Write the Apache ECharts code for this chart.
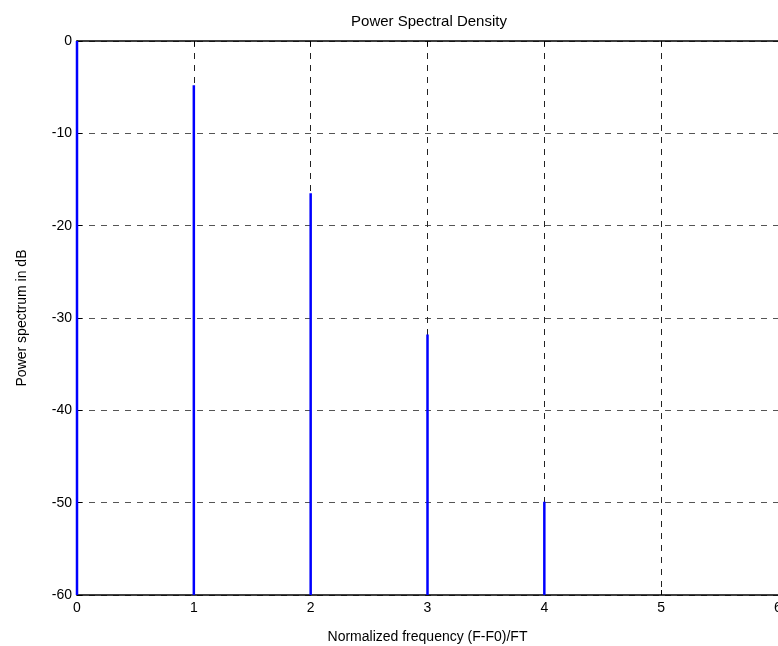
<!DOCTYPE html>
<html>
<head>
<meta charset="utf-8">
<script src="https://cdn.jsdelivr.net/npm/echarts@6/dist/echarts.min.js"></script>
<style>
html,body{margin:0;padding:0;background:#fff;}
#chart{width:778px;height:646px;}
</style>
</head>
<body>
<div id="chart"></div>
<script>
// Data
var frequencies = [0, 1, 2, 3, 4];
var powerDb = [0, -4.8, -16.5, -31.8, -49.9];
var xTicks = [0, 1, 2, 3, 4, 5, 6];
var yTicks = [0, -10, -20, -30, -40, -50, -60];

var FONT = 'Liberation Sans, Arial, sans-serif';
var chart = echarts.init(document.getElementById('chart'), null, {renderer: 'canvas'});

var stemData = frequencies.map(function (f, i) { return [f, powerDb[i]]; });

var option = {
  animation: false,
  backgroundColor: '#ffffff',
  title: {
    text: 'Power Spectral Density',
    left: 424, top: 9, textAlign: 'center',
    textStyle: {fontFamily: FONT, fontSize: 15, fontWeight: 'normal', color: '#000'}
  },
  grid: {left: 77, right: 0, top: 41, bottom: 51, containLabel: false, outerBoundsMode: 'none'},
  xAxis: [{
    type: 'value', min: 0, max: 6, interval: 1, position: 'bottom',
    name: 'Normalized frequency (F-F0)/FT', nameLocation: 'middle', nameGap: 35,
    nameTextStyle: {fontFamily: FONT, fontSize: 14, color: '#000'},
    axisLine: {show: true, onZero: false, lineStyle: {color: '#000', width: 1.5}},
    axisTick: {show: true, inside: true, length: 5, lineStyle: {color: '#000'}},
    axisLabel: {fontFamily: FONT, fontSize: 14, color: '#000', margin: 6, hideOverlap: false, showMaxLabel: true},
    splitLine: {show: true, lineStyle: {color: '#222', type: [6, 6], width: 1}}
  }, {
    type: 'value', min: 0, max: 6, interval: 1, position: 'top',
    axisLine: {show: true, onZero: false, lineStyle: {color: '#000', width: 1.5}},
    axisTick: {show: true, inside: true, length: 5, lineStyle: {color: '#000'}},
    axisLabel: {show: false}, splitLine: {show: false}
  }],
  yAxis: {
    type: 'value', min: -60, max: 0, interval: 10,
    name: 'Power spectrum in dB', nameLocation: 'middle', nameGap: 48,
    nameTextStyle: {fontFamily: FONT, fontSize: 14, color: '#000'},
    axisLine: {show: true, onZero: false, lineStyle: {color: '#000', width: 1.5}},
    axisTick: {show: true, inside: true, length: 5, lineStyle: {color: '#000'}},
    axisLabel: {fontFamily: FONT, fontSize: 14, color: '#000', margin: 5},
    splitLine: {show: true, lineStyle: {color: '#555', type: [6, 6], width: 1}}
  },
  series: [{
    type: 'custom',
    xAxisIndex: 0,
    clip: false,
    data: stemData,
    z: 10,
    renderItem: function (params, api) {
      var top = api.coord([api.value(0), api.value(1)]);
      var base = api.coord([api.value(0), -60]);
      return {
        type: 'line',
        shape: {x1: top[0], y1: top[1], x2: base[0], y2: base[1]},
        style: {stroke: '#0000ff', lineWidth: 2.5}
      };
    }
  }]
};
chart.setOption(option);
</script>
</body>
</html>
